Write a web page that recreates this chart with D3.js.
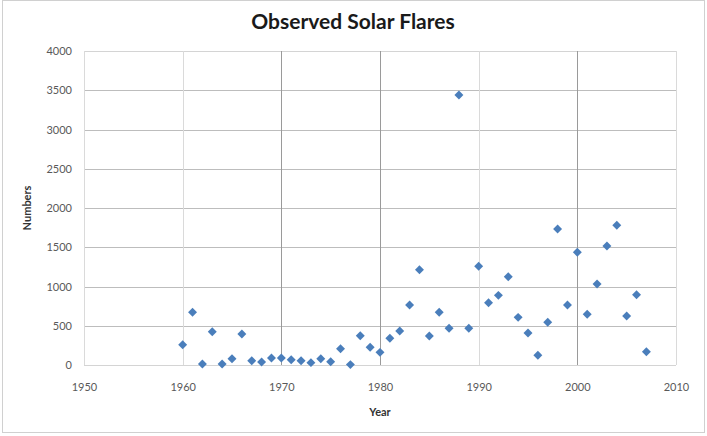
<!DOCTYPE html>
<html>
<head>
<meta charset="utf-8">
<script src="https://cdn.jsdelivr.net/npm/d3@7"></script>
<style>
  body { margin: 0; background: #fff; }
  text { font-family: Lato, "Open Sans", sans-serif; }
</style>
</head>
<body>
<div id="chart"></div>
<script>
// data
var years = [1960, 1961, 1962, 1963, 1964, 1965, 1966, 1967, 1968, 1969,
             1970, 1971, 1972, 1973, 1974, 1975, 1976, 1977, 1978, 1979,
             1980, 1981, 1982, 1983, 1984, 1985, 1986, 1987, 1988, 1989,
             1990, 1991, 1992, 1993, 1994, 1995, 1996, 1997, 1998, 1999,
             2000, 2001, 2002, 2003, 2004, 2005, 2006, 2007]
var flares = [258, 671, 13, 424, 13, 80, 395, 55, 38, 89,
              89, 68, 55, 30, 80, 42, 208, 5, 372, 225,
              161, 340, 433, 764, 1214, 369, 671, 467, 3440, 467,
              1257, 794, 887, 1125, 607, 408, 125, 544, 1733, 764,
              1436, 646, 1032, 1516, 1780, 624, 896, 170]
var xTicks = [1950, 1960, 1970, 1980, 1990, 2000, 2010]
var yTicks = [0, 500, 1000, 1500, 2000, 2500, 3000, 3500, 4000]

var W = 707, H = 436
var margin = {top: 51, right: 31, bottom: 71, left: 84}
var width = W - margin.left - margin.right,
    height = H - margin.top - margin.bottom

var svg = d3.select("#chart").append("svg")
    .attr("width", W)
    .attr("height", H)

// outer chart frame
svg.append("rect")
    .attr("x", 2.5).attr("y", 0.5)
    .attr("width", W - 5).attr("height", H - 4)
    .style("fill", "none").style("stroke", "#d0d0d0")

var g = svg.append("g")
    .attr("transform", "translate(" + margin.left + "," + margin.top + ")")

var x = d3.scaleLinear().domain([1950, 2010]).range([0, width])
var y = d3.scaleLinear().domain([0, 4000]).range([height, 0])

// horizontal grid
g.selectAll(".hgrid").data(yTicks).enter().append("line")
    .attr("x1", 0).attr("x2", width)
    .attr("y1", function(d) { return Math.round(y(d)) + 0.5 })
    .attr("y2", function(d) { return Math.round(y(d)) + 0.5 })
    .style("stroke", function(d) { return d == 0 || d == 4000 ? "#d4d4d4" : "#bdbdbd" })

// vertical grid (some look darker in the picture)
var darker = [1970, 1980, 2000]
g.selectAll(".vgrid").data(xTicks).enter().append("line")
    .attr("y1", 0).attr("y2", height)
    .attr("x1", function(d) { return Math.round(x(d)) + 0.5 })
    .attr("x2", function(d) { return Math.round(x(d)) + 0.5 })
    .style("stroke", function(d) { return darker.indexOf(d) >= 0 ? "#9a9a9a" : "#dadada" })

// axes (labels only, lines are the grid)
var yAxis = g.append("g")
    .call(d3.axisLeft(y).tickValues(yTicks).tickFormat(d3.format("d")).tickSize(0).tickPadding(12))
yAxis.select(".domain").remove()
yAxis.selectAll("text")
    .style("font-size", "11px").style("fill", "#595959")
    .style("font-family", "Lato, sans-serif")

var xAxis = g.append("g")
    .attr("transform", "translate(0," + height + ")")
    .call(d3.axisBottom(x).tickValues(xTicks).tickFormat(d3.format("d")).tickSize(0).tickPadding(18))
xAxis.select(".domain").remove()
xAxis.selectAll("text")
    .style("font-size", "11px").style("fill", "#595959")
    .style("font-family", "Lato, sans-serif")

// points
var diamond = d3.symbol().type(d3.symbolSquare).size(40)
g.selectAll(".pt").data(years).enter().append("path")
    .attr("d", diamond)
    .attr("transform", function(d, i) {
      return "translate(" + x(d) + "," + y(flares[i]) + ") rotate(45)"
    })
    .style("fill", "#4a7ebb")

// titles
svg.append("text")
    .attr("x", 353).attr("y", 29)
    .attr("text-anchor", "middle")
    .style("font-size", "21px").style("font-weight", "bold").style("fill", "#1a1a1a")
    .text("Observed Solar Flares")

svg.append("text")
    .attr("x", margin.left + width / 2).attr("y", 416)
    .attr("text-anchor", "middle")
    .style("font-size", "11px").style("font-weight", "bold").style("fill", "#333")
    .text("Year")

svg.append("text")
    .attr("transform", "translate(31," + (margin.top + height / 2) + ") rotate(-90)")
    .attr("text-anchor", "middle")
    .style("font-size", "11px").style("font-weight", "bold").style("fill", "#333")
    .text("Numbers")
</script>
</body>
</html>
